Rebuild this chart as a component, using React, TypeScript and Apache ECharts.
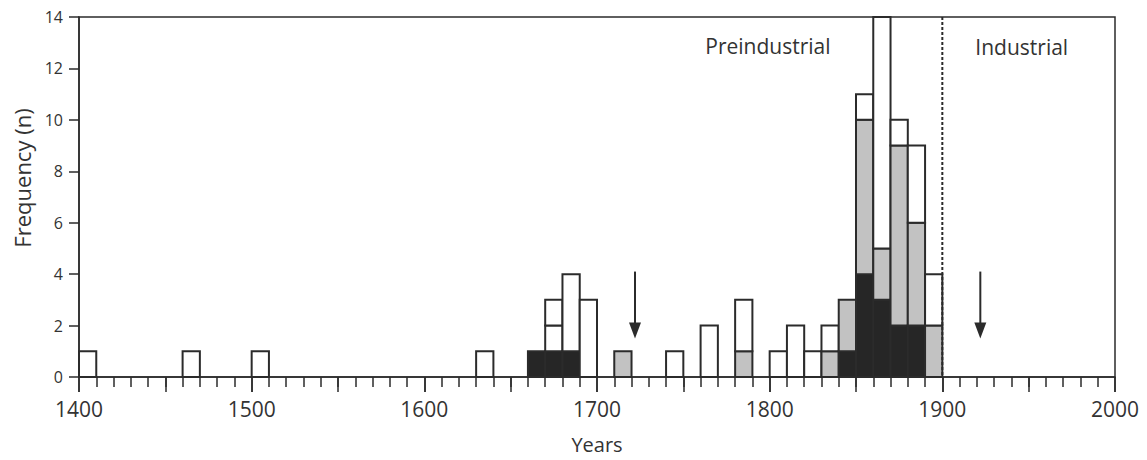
import React, { useEffect, useRef } from "react";
import * as echarts from "echarts";

// 10-year bins, given by start year
const binStarts = [1400, 1460, 1500, 1630, 1660, 1670, 1680, 1690, 1710, 1740, 1760, 1780, 1800, 1810, 1820, 1830, 1840, 1850, 1860, 1870, 1880, 1890];
const blackCounts = [0, 0, 0, 0, 1, 1, 1, 0, 0, 0, 0, 0, 0, 0, 0, 0, 1, 4, 3, 2, 2, 0];
const grayCounts = [0, 0, 0, 0, 0, 0, 0, 0, 1, 0, 0, 1, 0, 0, 0, 1, 2, 6, 2, 7, 4, 2];
const whiteCountsA = [1, 1, 1, 1, 0, 1, 3, 3, 0, 1, 2, 2, 1, 2, 1, 1, 0, 1, 9, 1, 3, 2];
const whiteCountsB = [0, 0, 0, 0, 0, 1, 0, 0, 0, 0, 0, 0, 0, 0, 0, 0, 0, 0, 0, 0, 0, 0];
const binWidth = 10;

const arrowYears = [1722, 1922];
const arrowTop = [4.1, 4.1];
const arrowTip = [1.5, 1.5];

const dividerYear = 1900;

const periodLabels = ["Preindustrial", "Industrial"];
const periodX = [1799, 1946];
const periodY = [12.88, 12.85];

const xTitle = "Years";
const yTitle = "Frequency (n)";

const FONT = "'Open Sans', 'Noto Sans', sans-serif";
const INK = "#2b2b2b";
const TEXT = "#333333";
const fills = ["#262626", "#c2c2c2", "#ffffff", "#ffffff"];

function buildBars() {
  const rows: number[][] = [];
  binStarts.forEach((s, i) => {
    let base = 0;
    const parts = [blackCounts[i], grayCounts[i], whiteCountsA[i], whiteCountsB[i]];
    parts.forEach((v, k) => {
      if (v > 0) {
        rows.push([s, s + binWidth, base, base + v, k]);
        base += v;
      }
    });
  });
  return rows;
}

export default function App() {
  const ref = useRef<HTMLDivElement>(null);
  useEffect(() => {
    if (!ref.current) return;
    document.body.style.margin = "0";
    const chart = echarts.init(ref.current, undefined, { renderer: "svg" });
    const bars = buildBars();
    chart.setOption({
      animation: false,
      tooltip: { show: false },
      grid: {
        left: 79,
        right: 32,
        top: 17,
        bottom: 83,
        containLabel: false,
        outerBoundsMode: "none",
        show: true,
        borderColor: INK,
        borderWidth: 1.5,
        backgroundColor: "transparent",
      },
      xAxis: [
        {
          type: "value",
          min: 1400,
          max: 2000,
          interval: 100,
          name: xTitle,
          nameLocation: "middle",
          nameGap: 57,
          nameTextStyle: { fontFamily: FONT, fontSize: 20, color: TEXT },
          axisLine: { show: true, lineStyle: { color: INK, width: 1.5 } },
          axisTick: { show: true, length: 15, lineStyle: { color: INK, width: 1.5 } },
          minorTick: { show: true, splitNumber: 10, length: 10, lineStyle: { color: INK, width: 1.5 } },
          axisLabel: {
            fontFamily: FONT,
            fontSize: 21,
            color: TEXT,
            margin: 21,
            formatter: (v: number) => String(v),
          },
          splitLine: { show: false },
          minorSplitLine: { show: false },
        },
        {
          type: "value",
          min: 1400,
          max: 2000,
          interval: 50,
          position: "bottom",
          axisLine: { show: false },
          axisTick: { show: true, length: 15, lineStyle: { color: INK, width: 1.5 } },
          axisLabel: { show: false },
          splitLine: { show: false },
        },
      ],
      yAxis: {
        type: "value",
        min: 0,
        max: 14,
        interval: 2,
        axisLine: { show: true, lineStyle: { color: INK, width: 1.5 } },
        axisTick: { show: true, length: 10, lineStyle: { color: INK, width: 1.5 } },
        axisLabel: { fontFamily: FONT, fontSize: 16, color: TEXT, margin: 16 },
        splitLine: { show: false },
      },
      graphic: [
        {
          type: "text",
          x: 22,
          y: 178,
          rotation: Math.PI / 2,
          style: {
            text: yTitle,
            fontFamily: FONT,
            fontSize: 22,
            fill: TEXT,
            align: "center",
            verticalAlign: "middle",
          },
        },
      ],
      series: [
        {
          type: "custom",
          name: "bars",
          xAxisIndex: 0,
          data: bars,
          encode: { x: [0, 1], y: [2, 3] },
          renderItem: (params: any, api: any) => {
            const p0 = api.coord([api.value(0), api.value(2)]);
            const p1 = api.coord([api.value(1), api.value(3)]);
            const kind = api.value(4);
            return {
              type: "rect",
              shape: { x: p0[0], y: p1[1], width: p1[0] - p0[0], height: p0[1] - p1[1] },
              style: { fill: fills[kind], stroke: INK, lineWidth: 2 },
            };
          },
        },
        {
          type: "custom",
          name: "divider",
          data: [[dividerYear, 14, 0]],
          renderItem: (params: any, api: any) => {
            const a = api.coord([api.value(0), api.value(1)]);
            const b = api.coord([api.value(0), api.value(2)]);
            return {
              type: "line",
              shape: { x1: a[0], y1: a[1], x2: b[0], y2: b[1] },
              style: { stroke: INK, lineWidth: 2, lineDash: [3, 2] },
            };
          },
        },
        {
          type: "custom",
          name: "arrows",
          data: arrowYears.map((x, i) => [x, arrowTop[i], arrowTip[i]]),
          renderItem: (params: any, api: any) => {
            const a = api.coord([api.value(0), api.value(1)]);
            const b = api.coord([api.value(0), api.value(2)]);
            const hw = 6;
            const hh = 16;
            return {
              type: "group",
              children: [
                {
                  type: "line",
                  shape: { x1: a[0], y1: a[1], x2: b[0], y2: b[1] - hh + 2 },
                  style: { stroke: INK, lineWidth: 2 },
                },
                {
                  type: "polygon",
                  shape: {
                    points: [
                      [b[0] - hw, b[1] - hh],
                      [b[0] + hw, b[1] - hh],
                      [b[0], b[1]],
                    ],
                  },
                  style: { fill: INK },
                },
              ],
            };
          },
        },
        {
          type: "custom",
          name: "periods",
          data: periodX.map((x, i) => [x, periodY[i]]),
          renderItem: (params: any, api: any) => {
            const p = api.coord([api.value(0), api.value(1)]);
            return {
              type: "text",
              x: p[0],
              y: p[1],
              style: {
                text: periodLabels[params.dataIndex],
                fontFamily: FONT,
                fontSize: 21,
                fill: TEXT,
                align: "center",
                verticalAlign: "middle",
              },
            };
          },
        },
      ],
    });
    return () => chart.dispose();
  }, []);
  return <div ref={ref} style={{ width: 1147, height: 460, background: "#fff" }} />;
}
